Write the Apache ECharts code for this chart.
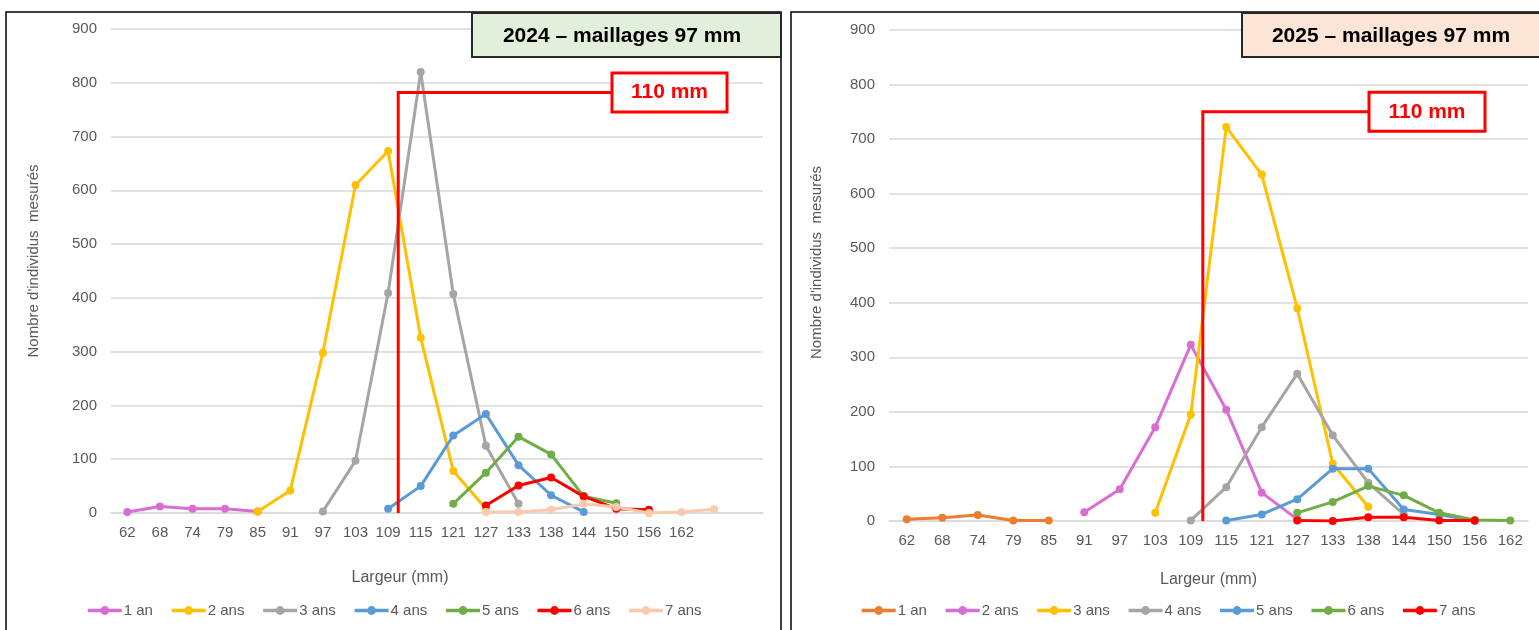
<!DOCTYPE html>
<html>
<head>
<meta charset="utf-8">
<title>Largeur par âge - maillages 97 mm</title>
<script src="https://cdn.jsdelivr.net/npm/echarts@6/dist/echarts.min.js"></script>
<style>
  html, body { margin: 0; padding: 0; background: #fff; }
  #chart { width: 1539px; height: 630px; }
</style>
</head>
<body>
<div id="chart"></div>
<script>
// largeurs (mm) - axe des catégories
const categories2024 = ['62', '68', '74', '79', '85', '91', '97', '103', '109', '115', '121', '127', '133', '138', '144', '150', '156', '162', '', ''];
const categories2025 = ['62', '68', '74', '79', '85', '91', '97', '103', '109', '115', '121', '127', '133', '138', '144', '150', '156', '162'];

// axe Y
const yMin = 0;
const yMax = 900;
const yStep = 100;

// classes d'âge
const ages = ['1 an', '2 ans', '3 ans', '4 ans', '5 ans', '6 ans', '7 ans'];

// 2024 - nombre d'individus mesurés
const an1_2024 = [2, 12, 8, 8, 3, null, null, null, null, null, null, null, null, null, null, null, null, null, null, null];
const ans2_2024 = [null, null, null, null, 3, 42, 298, 610, 673, 326, 78, 8, null, null, null, null, null, null, null, null];
const ans3_2024 = [null, null, null, null, null, null, 3, 97, 409, 820, 407, 125, 17, null, null, null, null, null, null, null];
const ans4_2024 = [null, null, null, null, null, null, null, null, 8, 50, 144, 184, 89, 33, 2, null, null, null, null, null];
const ans5_2024 = [null, null, null, null, null, null, null, null, null, null, 17, 75, 142, 109, 31, 18, null, null, null, null];
const ans6_2024 = [null, null, null, null, null, null, null, null, null, null, null, 14, 51, 66, 31, 8, 6, null, null, null];
const ans7_2024 = [null, null, null, null, null, null, null, null, null, null, null, 2, 2, 6, 17, 11, 0, 2, 7, null];

// 2025 - nombre d'individus mesurés
const an1_2025 = [3, 6, 11, 1, 1, null, null, null, null, null, null, null, null, null, null, null, null, null];
const ans2_2025 = [null, null, null, null, null, 16, 58, 172, 323, 204, 52, 3, null, null, null, null, null, null];
const ans3_2025 = [null, null, null, null, null, null, null, 15, 195, 722, 635, 390, 105, 26, null, null, null, null];
const ans4_2025 = [null, null, null, null, null, null, null, null, 1, 62, 172, 270, 157, 70, 12, null, null, null];
const ans5_2025 = [null, null, null, null, null, null, null, null, null, 1, 12, 40, 96, 96, 21, 12, 0, null];
const ans6_2025 = [null, null, null, null, null, null, null, null, null, null, null, 15, 35, 64, 47, 15, 2, 1];
const ans7_2025 = [null, null, null, null, null, null, null, null, null, null, null, 1, 0, 7, 7, 1, 1, null];

// repère 110 mm : position (index de catégorie) et hauteur du trait
const limitIndex2024 = 8.31;
const limitTop2024 = 782;
const limitIndex2025 = 8.34;
const limitTop2025 = 750;

const colors2024 = ['#D86ED1', '#FFC000', '#A5A5A5', '#5B9BD5', '#70AD47', '#FF0000', '#F8CBAD'];
const colors2025 = ['#ED7D31', '#D86ED1', '#FFC000', '#A5A5A5', '#5B9BD5', '#70AD47', '#FF0000'];

const data2024 = [an1_2024, ans2_2024, ans3_2024, ans4_2024, ans5_2024, ans6_2024, ans7_2024];
const data2025 = [an1_2025, ans2_2025, ans3_2025, ans4_2025, ans5_2025, ans6_2025, ans7_2025];

const FONT = "'Liberation Sans', Arial, sans-serif";
const TXT = '#595959';

function makeSeries(list, colors, idx, suffix) {
  return list.map((d, i) => ({
    name: ages[i] + suffix,
    type: 'line',
    xAxisIndex: idx,
    yAxisIndex: idx,
    data: d,
    symbol: 'circle',
    symbolSize: 8,
    color: colors[i],
    lineStyle: { width: 3, color: colors[i] },
    itemStyle: { color: colors[i] },
    emphasis: { disabled: true },
    animation: false
  }));
}

function xAxis(cats, idx, nameGap, namePad) {
  return {
    type: 'category',
    gridIndex: idx,
    data: cats,
    boundaryGap: true,
    name: 'Largeur (mm)',
    nameLocation: 'middle',
    nameGap: nameGap,
    nameTextStyle: { color: TXT, fontSize: 16, fontFamily: FONT, padding: namePad },
    axisLine: { show: true, lineStyle: { color: '#D9D9D9', width: 1.5 } },
    axisTick: { show: false },
    axisLabel: { color: TXT, fontSize: 15, fontFamily: FONT, margin: 12, interval: 0 },
    splitLine: { show: false }
  };
}

function yAxis(idx, nameGap, namePad) {
  return {
    type: 'value',
    gridIndex: idx,
    min: yMin,
    max: yMax,
    interval: yStep,
    name: "Nombre d'individus  mesurés",
    nameLocation: 'middle',
    nameGap: nameGap,
    nameRotate: 90,
    nameTextStyle: { color: TXT, fontSize: 15, fontFamily: FONT, padding: namePad },
    axisLine: { show: false },
    axisTick: { show: false },
    axisLabel: { color: TXT, fontSize: 15, fontFamily: FONT, margin: 14 },
    splitLine: { show: true, lineStyle: { color: '#D9D9D9', width: 1.5 } }
  };
}

function legend(names, left) {
  return {
    data: names,
    left: left,
    top: 603,
    padding: 0,
    itemWidth: 34,
    itemHeight: 11,
    itemGap: 17,
    lineStyle: { width: 3.5 },
    textStyle: { color: TXT, fontSize: 15, fontFamily: FONT, padding: [0, 0, 0, -3] },
    selectedMode: false
  };
}

const chart = echarts.init(document.getElementById('chart'), null, { renderer: 'canvas' });

chart.setOption({
  backgroundColor: '#ffffff',
  animation: false,
  grid: [
    { left: 111, top: 29, width: 652, height: 484, outerBoundsMode: 'none' },
    { left: 889, top: 30, width: 639, height: 491, outerBoundsMode: 'none' }
  ],
  xAxis: [xAxis(categories2024, 0, 57, [0, 74, 0, 0]), xAxis(categories2025, 1, 51, [0, 0, 0, 0])],
  yAxis: [yAxis(0, 70, [0, 0, 0, 20]), yAxis(1, 65, [0, 0, 0, 26])],
  legend: [
    legend(ages, 86),
    legend(ages.map(n => n + '\u200b'), 860)
  ],
  series: makeSeries(data2024, colors2024, 0, '').concat(makeSeries(data2025, colors2025, 1, '\u200b'))
});

// repères 110 mm, cadres et titres
function limitMarker(gridIndex, index, top, boxLeft, boxWidth) {
  const base = chart.convertToPixel({ gridIndex: gridIndex }, [Math.floor(index), yMin]);
  const next = chart.convertToPixel({ gridIndex: gridIndex }, [Math.floor(index) + 1, yMin]);
  const x = base[0] + (next[0] - base[0]) * (index - Math.floor(index));
  const yTop = chart.convertToPixel({ gridIndex: gridIndex }, [0, top])[1];
  const h = 39;
  return [
    {
      type: 'polyline',
      shape: { points: [[x, base[1]], [x, yTop], [boxLeft, yTop]] },
      style: { stroke: '#FF0000', lineWidth: 3, fill: null },
      z: 50
    },
    {
      type: 'rect',
      shape: { x: boxLeft, y: yTop - h / 2, width: boxWidth, height: h },
      style: { fill: '#ffffff', stroke: '#FF0000', lineWidth: 3 },
      z: 51
    },
    {
      type: 'text',
      x: boxLeft + boxWidth / 2,
      y: yTop,
      style: { text: '110 mm', fill: '#FF0000', font: 'bold 21px ' + FONT, align: 'center', verticalAlign: 'middle' },
      z: 52
    }
  ];
}

function titleBox(x, w, fill, text, cx) {
  return [
    {
      type: 'rect',
      shape: { x: x, y: 13, width: w, height: 44 },
      style: { fill: fill, stroke: '#262626', lineWidth: 2 },
      z: 60
    },
    {
      type: 'text',
      x: cx,
      y: 36,
      style: { text: text, fill: '#000000', font: 'bold 21px ' + FONT, align: 'center', verticalAlign: 'middle' },
      z: 61
    }
  ];
}

const graphics = [
  { type: 'rect', shape: { x: 6, y: 12, width: 775, height: 640 }, style: { fill: null, stroke: '#000', lineWidth: 1.5 }, z: 40 },
  { type: 'rect', shape: { x: 791, y: 12, width: 760, height: 640 }, style: { fill: null, stroke: '#000', lineWidth: 1.5 }, z: 40 }
]
  .concat(limitMarker(0, limitIndex2024, limitTop2024, 612, 115))
  .concat(limitMarker(1, limitIndex2025, limitTop2025, 1369, 116))
  .concat(titleBox(472, 309, '#E2EFDA', '2024 – maillages 97 mm', 622))
  .concat(titleBox(1242, 300, '#FBE5D6', '2025 – maillages 97 mm', 1391));

chart.setOption({ graphic: graphics });
</script>
</body>
</html>
